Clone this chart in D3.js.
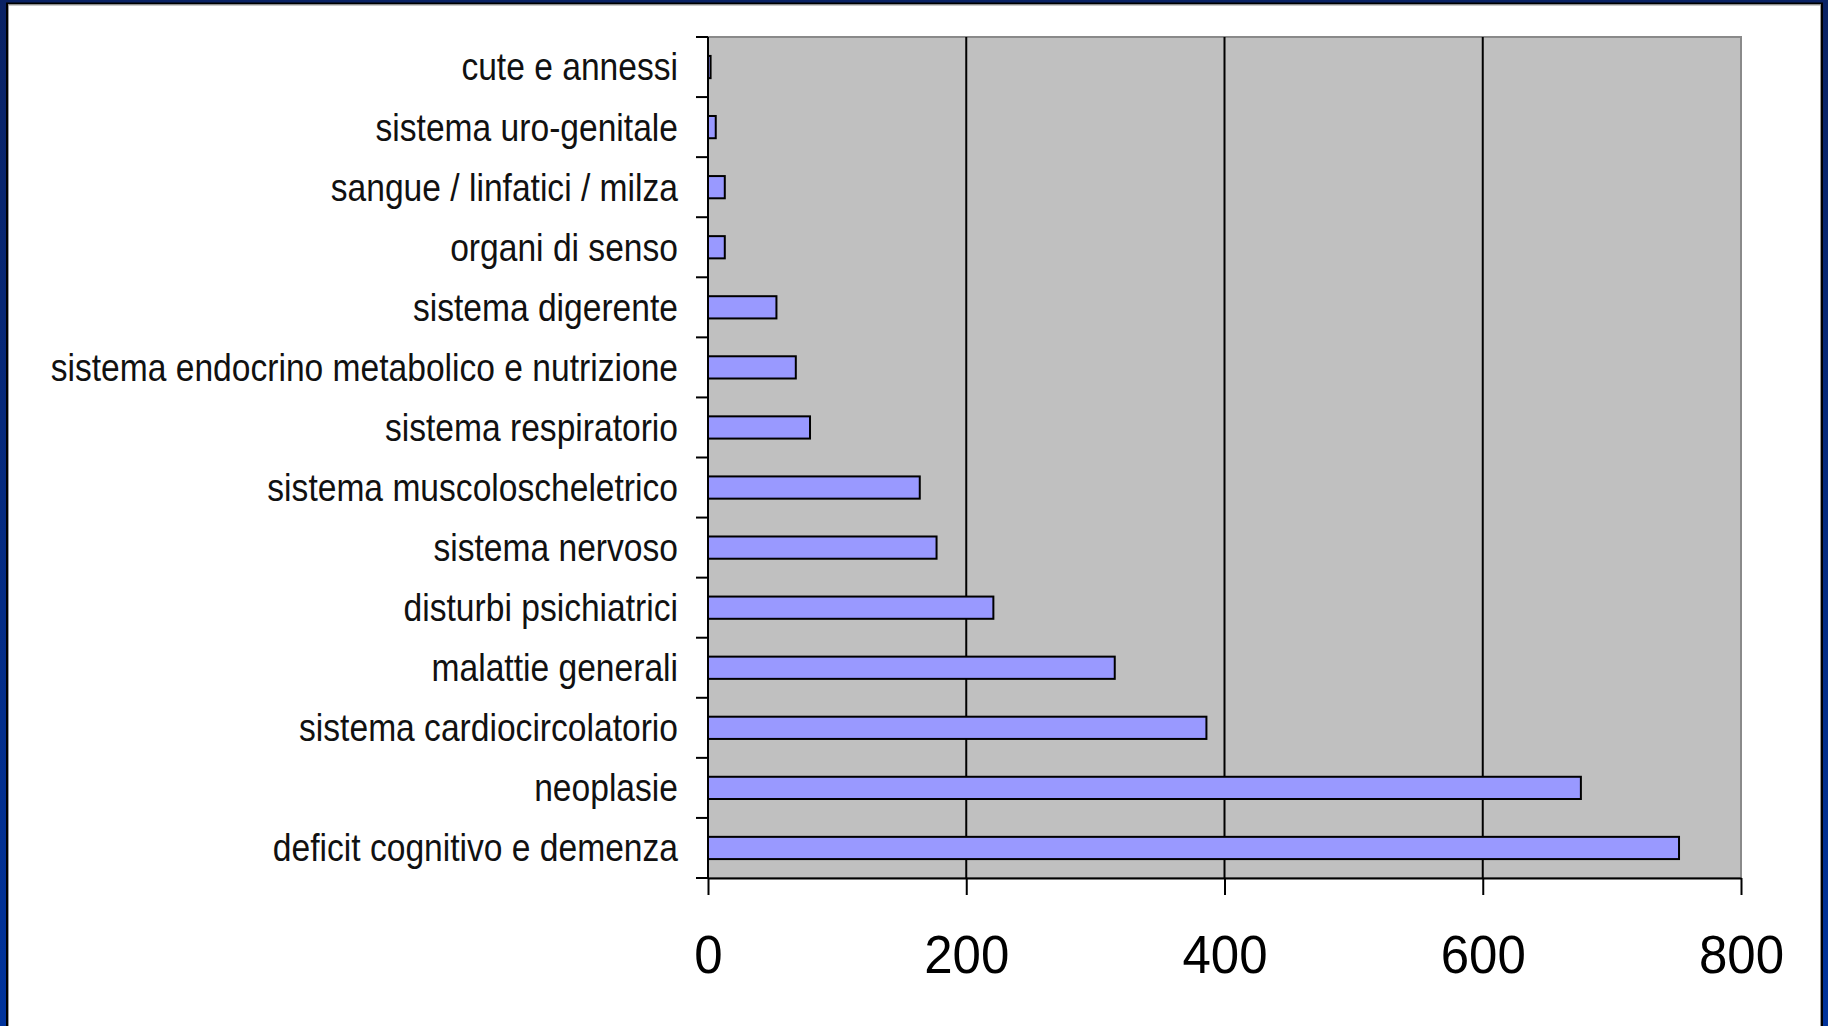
<!DOCTYPE html>
<html>
<head>
<meta charset="utf-8">
<script src="https://cdn.jsdelivr.net/npm/d3@7"></script>
<style>
  html, body { margin: 0; padding: 0; }
  body { width: 1828px; height: 1026px; overflow: hidden; }
  svg { display: block; }
  text { font-family: "Liberation Sans", Arial, sans-serif; fill: #000; }
</style>
</head>
<body>
<svg id="chart" width="1828" height="1026"></svg>
<script>
// Disease categories, listed from top to bottom of the chart
const categories = [
  "cute e annessi",
  "sistema uro-genitale",
  "sangue / linfatici / milza",
  "organi di senso",
  "sistema digerente",
  "sistema endocrino metabolico e nutrizione",
  "sistema respiratorio",
  "sistema muscoloscheletrico",
  "sistema nervoso",
  "disturbi psichiatrici",
  "malattie generali",
  "sistema cardiocircolatorio",
  "neoplasie",
  "deficit cognitivo e demenza"
];
const values = [2, 6, 13, 13, 53, 68, 79, 164, 177, 221, 315, 386, 676, 752];
const xTicks = [0, 200, 400, 600, 800];

const svg = d3.select("#chart");

// Slide frame: blue gradient border around a white panel
const defs = svg.append("defs");
const grad = defs.append("linearGradient")
  .attr("id", "frameBlue").attr("x1", 0).attr("y1", 0).attr("x2", 0).attr("y2", 1);
grad.append("stop").attr("offset", "0%").attr("stop-color", "#0a2264");
grad.append("stop").attr("offset", "100%").attr("stop-color", "#00339c");
svg.append("rect").attr("width", 1828).attr("height", 1026).attr("fill", "url(#frameBlue)");
svg.append("rect").attr("x", 7).attr("y", 3.5).attr("width", 1815).attr("height", 1030)
  .attr("fill", "#fff").attr("stroke", "#000").attr("stroke-width", 2);
svg.append("rect").attr("x", 8.5).attr("y", 5).attr("width", 1812).attr("height", 1030)
  .attr("fill", "none").attr("stroke", "#9a9a9a").attr("stroke-width", 1);

// Plot geometry
const plot = { left: 708, right: 1741, top: 37, bottom: 878 };

const x = d3.scaleLinear().domain([0, 800]).range([plot.left, plot.right]);
const y = d3.scaleBand().domain(categories).range([plot.top, plot.bottom])
  .paddingInner(0.63).paddingOuter(0.315);

const g = svg.append("g");

// Plot area background and border
g.append("rect")
  .attr("x", plot.left).attr("y", plot.top)
  .attr("width", plot.right - plot.left).attr("height", plot.bottom - plot.top)
  .attr("fill", "#c0c0c0").attr("stroke", "#8a8a8a").attr("stroke-width", 2);

// Vertical gridlines
g.selectAll("line.grid")
  .data(xTicks.filter(t => t > 0 && t < 800))
  .join("line").attr("class", "grid")
  .attr("x1", d => x(d)).attr("x2", d => x(d))
  .attr("y1", plot.top).attr("y2", plot.bottom)
  .attr("stroke", "#000").attr("stroke-width", 2);

// Bars
g.selectAll("rect.bar")
  .data(categories.map((c, i) => ({ c, v: values[i] })))
  .join("rect").attr("class", "bar")
  .attr("x", x(0))
  .attr("y", d => y(d.c))
  .attr("width", d => x(d.v) - x(0))
  .attr("height", y.bandwidth())
  .attr("fill", "#9999ff").attr("stroke", "#000").attr("stroke-width", 2);

// Category axis: line, ticks at band boundaries, labels
const step = y.step();
const bounds = d3.range(categories.length + 1).map(i => plot.top + i * step);
g.append("line")
  .attr("x1", plot.left).attr("x2", plot.left)
  .attr("y1", plot.top).attr("y2", plot.bottom)
  .attr("stroke", "#000").attr("stroke-width", 2);
g.selectAll("line.ytick").data(bounds).join("line").attr("class", "ytick")
  .attr("x1", plot.left - 12).attr("x2", plot.left)
  .attr("y1", d => d).attr("y2", d => d)
  .attr("stroke", "#000").attr("stroke-width", 2);
g.selectAll("text.ylabel").data(categories).join("text").attr("class", "ylabel")
  .attr("transform", d => `translate(678,${y(d) + y.bandwidth() / 2}) scale(1,1.14)`)
  .attr("text-anchor", "end")
  .attr("dy", "0.35em")
  .style("font-size", "33.6px")
  .style("fill", "#111")
  .text(d => d);

// Value axis
const xAxis = g.append("g")
  .attr("transform", `translate(0,${plot.bottom})`)
  .call(d3.axisBottom(x).tickValues(xTicks).tickSize(17).tickSizeOuter(0).tickFormat(d3.format("d")));
xAxis.select(".domain").attr("stroke", "#000").attr("stroke-width", 2);
xAxis.selectAll(".tick line").attr("stroke", "#000").attr("stroke-width", 2);
xAxis.selectAll(".tick text")
  .attr("y", null).attr("dy", null)
  .attr("transform", "translate(0,95) scale(1,1.06)")
  .style("font-size", "51px")
  .style("font-family", "'Liberation Sans', Arial, sans-serif")
  .attr("fill", "#000");
</script>
</body>
</html>
